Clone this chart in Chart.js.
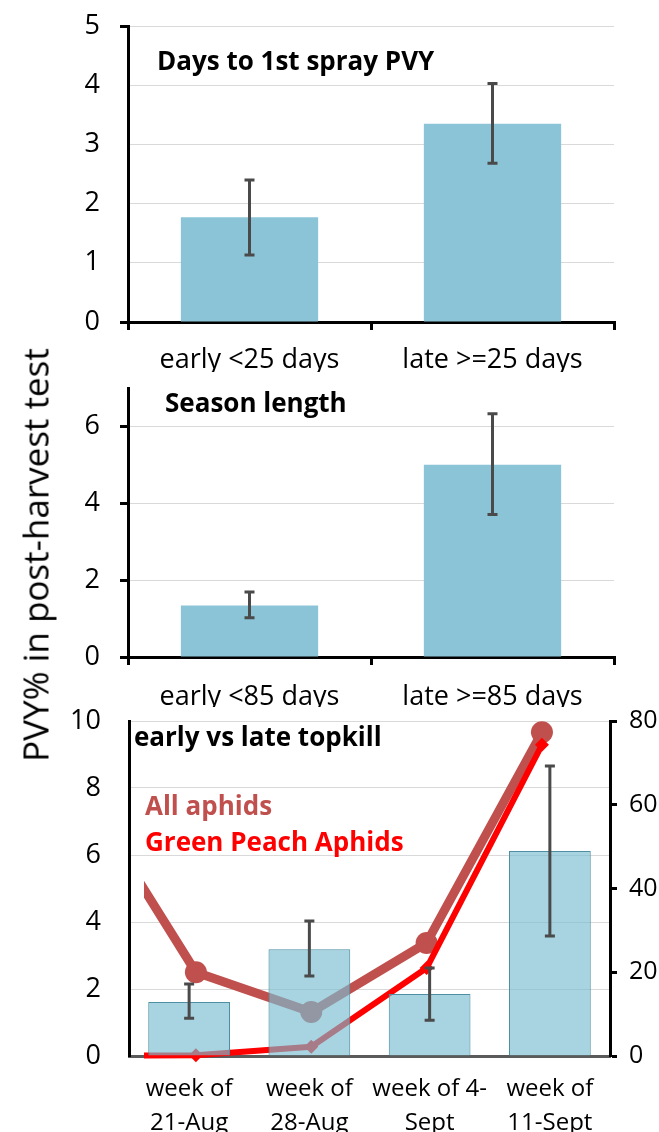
<!DOCTYPE html>
<html>
<head>
<meta charset="utf-8">
<script src="https://cdn.jsdelivr.net/npm/chart.js@4.4.1/dist/chart.umd.min.js"></script>
<style>
  body { margin: 0; background: #fff; font-family: "Open Sans", sans-serif; }
  #page { position: relative; width: 659px; height: 1132px; overflow: hidden; }
  .panel { position: absolute; left: 0; width: 659px; }
  .note { position: absolute; font-weight: bold; white-space: nowrap; line-height: 1; font-size: 26px; }
  #yTitle { position: absolute; left: 35px; top: 555px; transform: translate(-50%, -50%) rotate(-90deg);
            font-size: 35px; white-space: nowrap; color: #000; line-height: 1; }
</style>
</head>
<body>
<div id="page">
  <div class="panel" style="top:6px;height:366px"><canvas id="c1"></canvas></div>
  <div class="panel" style="top:368px;height:339px"><canvas id="c2"></canvas></div>
  <div class="panel" style="top:701px;height:431px"><canvas id="c3"></canvas></div>

  <div id="yTitle">PVY% in post-harvest test</div>
  <div class="note" style="left:157px;top:47px;color:#000">Days to 1st spray PVY</div>
  <div class="note" style="left:165px;top:389px;color:#000">Season length</div>
  <div class="note" style="left:134px;top:723px;color:#000">early vs late topkill</div>
  <div class="note" style="left:145px;top:792px;color:#C0504D">All aphids</div>
  <div class="note" style="left:145px;top:828px;color:#FF0000">Green Peach Aphids</div>
</div>

<script>
// panel 1: days to first spray
const sprayLabels = ['early <25 days', 'late >=25 days'];
const sprayPVY = [1.77, 3.35];
const sprayLow = [1.13, 2.68];
const sprayHigh = [2.40, 4.03];
const sprayTicks = [0, 1, 2, 3, 4, 5];

// panel 2: season length
const seasonLabels = ['early <85 days', 'late >=85 days'];
const seasonPVY = [1.34, 5.0];
const seasonLow = [1.02, 3.71];
const seasonHigh = [1.69, 6.33];
const seasonTicks = [0, 2, 4, 6];

// panel 3: topkill week + aphid counts
const weekLabels = [['week of', '21-Aug'], ['week of', '28-Aug'], ['week of 4-', 'Sept'], ['week of', '11-Sept']];
const topkillPVY = [1.61, 3.19, 1.85, 6.12];
const topkillLow = [1.13, 2.39, 1.07, 3.58];
const topkillHigh = [2.15, 4.03, 2.63, 8.66];
const topkillTicks = [0, 2, 4, 6, 8, 10];
const aphidTicks = [0, 20, 40, 60, 80];
// week index of aphid counts (-1 = week before, running off the left edge)
const aphidWeeks = [-1, 0, 1, 2, 3];
const allAphids = [64, 20.0, 10.5, 27.0, 77.3];
const greenPeach = [0, 0.2, 2.2, 21.0, 74.3];

Chart.defaults.font.family = '"Open Sans", sans-serif';
Chart.defaults.font.size = 27;
Chart.defaults.color = '#000';
Chart.defaults.animation = false;

const errorBars = {
  id: 'errorBars',
  afterDatasetsDraw(chart, args, opts) {
    const meta = chart.getDatasetMeta(0);
    const y = chart.scales[meta.yAxisID];
    const ctx = chart.ctx;
    ctx.save();
    ctx.strokeStyle = '#4a4a4a';
    ctx.lineWidth = 3;
    meta.data.forEach((bar, i) => {
      const lo = y.getPixelForValue(opts.low[i]);
      const hi = y.getPixelForValue(opts.high[i]);
      ctx.beginPath();
      ctx.moveTo(bar.x, lo); ctx.lineTo(bar.x, hi);
      ctx.moveTo(bar.x - 5, lo); ctx.lineTo(bar.x + 5, lo);
      ctx.moveTo(bar.x - 5, hi); ctx.lineTo(bar.x + 5, hi);
      ctx.stroke();
    });
    ctx.restore();
  }
};

function fixTicks(list) {
  return scale => { scale.ticks = list.map(v => ({ value: v })); };
}
// fixed axis width, no extra room for label overflow
function fitY(w) {
  return s => { s.width = w; s.paddingTop = 0; s.paddingBottom = 0; };
}

function simplePanel(id, labels, values, low, high, ticks, max, yTickColor, xPad) {
  return new Chart(document.getElementById(id), {
    type: 'bar',
    data: {
      labels: labels,
      datasets: [{
        data: values,
        backgroundColor: '#8bc4d6',
        barPercentage: 0.565,
        categoryPercentage: 1
      }]
    },
    options: {
      responsive: true,
      maintainAspectRatio: false,
      layout: { padding: { top: 20, right: 45, left: 0, bottom: 0 } },
      plugins: { legend: { display: false }, tooltip: { enabled: false }, errorBars: { low: low, high: high } },
      scales: {
        x: {
          grid: { offset: true, drawOnChartArea: false, tickLength: 8, color: '#000', lineWidth: 3 },
          border: { color: '#000', width: 3 },
          ticks: { padding: xPad, maxRotation: 0 },
          afterFit: s => { s.height = 50; s.paddingLeft = 0; s.paddingRight = 0; }
        },
        y: {
          min: 0, max: max,
          afterBuildTicks: fixTicks(ticks),
          grid: { color: '#d9d9d9', lineWidth: 1, tickLength: 8, tickColor: yTickColor, tickWidth: 3 },
          border: { color: '#000', width: 3 },
          ticks: { padding: 20 },
          afterFit: fitY(128)
        }
      }
    },
    plugins: [errorBars]
  });
}

simplePanel('c1', sprayLabels, sprayPVY, sprayLow, sprayHigh, sprayTicks, 5,
  ctx => (ctx.tick && (ctx.tick.value === 0 || ctx.tick.value === 5)) ? '#000' : 'rgba(0,0,0,0)', 14);
simplePanel('c2', seasonLabels, seasonPVY, seasonLow, seasonHigh, seasonTicks, 7, '#000', 16);

new Chart(document.getElementById('c3'), {
  type: 'bar',
  data: {
    labels: weekLabels,
    datasets: [{
      data: topkillPVY,
      backgroundColor: 'rgba(121,189,209,0.65)',
      borderColor: '#4f8fa3',
      borderWidth: 1,
      barPercentage: 0.68,
      categoryPercentage: 1,
      grouped: false,
      order: 0
    }, {
      type: 'line',
      label: 'Green Peach Aphids',
      data: aphidWeeks.map((w, i) => ({ x: w, y: greenPeach[i] })),
      xAxisID: 'x2', yAxisID: 'y2',
      borderColor: '#ff0000', backgroundColor: '#ff0000',
      borderWidth: 6, borderJoinStyle: 'round',
      pointStyle: 'rectRot', pointRadius: 7, pointBorderWidth: 0,
      clip: { left: -15, top: 15, right: 0, bottom: 12 },
      order: 1
    }, {
      type: 'line',
      label: 'All aphids',
      data: aphidWeeks.map((w, i) => ({ x: w, y: allAphids[i] })),
      xAxisID: 'x2', yAxisID: 'y2',
      borderColor: '#c0504d', backgroundColor: '#c0504d',
      borderWidth: 9, borderJoinStyle: 'round',
      pointStyle: 'circle', pointRadius: 11, pointBorderWidth: 0,
      clip: { left: -15, top: 15, right: 0, bottom: 12 },
      order: 2
    }]
  },
  options: {
    responsive: true,
    maintainAspectRatio: false,
    layout: { padding: { top: 20, right: 0, left: 0, bottom: 0 } },
    plugins: { legend: { display: false }, tooltip: { enabled: false }, errorBars: { low: topkillLow, high: topkillHigh } },
    scales: {
      x: {
        grid: { display: false },
        border: { color: '#5a5a5a', width: 3 },
        ticks: { padding: 8, maxRotation: 0, font: { size: 24, lineHeight: 1.42 } },
        afterFit: s => { s.height = 76; s.paddingLeft = 0; s.paddingRight = 0; }
      },
      x2: { type: 'linear', display: false, offset: false, min: -0.58, max: 3.59 },
      y: {
        min: 0, max: 10,
        afterBuildTicks: fixTicks(topkillTicks),
        grid: { color: '#d9d9d9', lineWidth: 1, drawTicks: false },
        border: { color: '#000', width: 3 },
        ticks: { padding: 28 },
        afterFit: fitY(129)
      },
      y2: {
        position: 'right',
        min: 0, max: 80,
        afterBuildTicks: fixTicks(aphidTicks),
        grid: { drawOnChartArea: false, tickLength: 7, tickColor: '#000', tickWidth: 3 },
        border: { color: '#000', width: 3 },
        ticks: { padding: 12, font: { size: 25 } },
        afterFit: fitY(49)
      }
    }
  },
  plugins: [errorBars]
});
</script>
</body>
</html>
